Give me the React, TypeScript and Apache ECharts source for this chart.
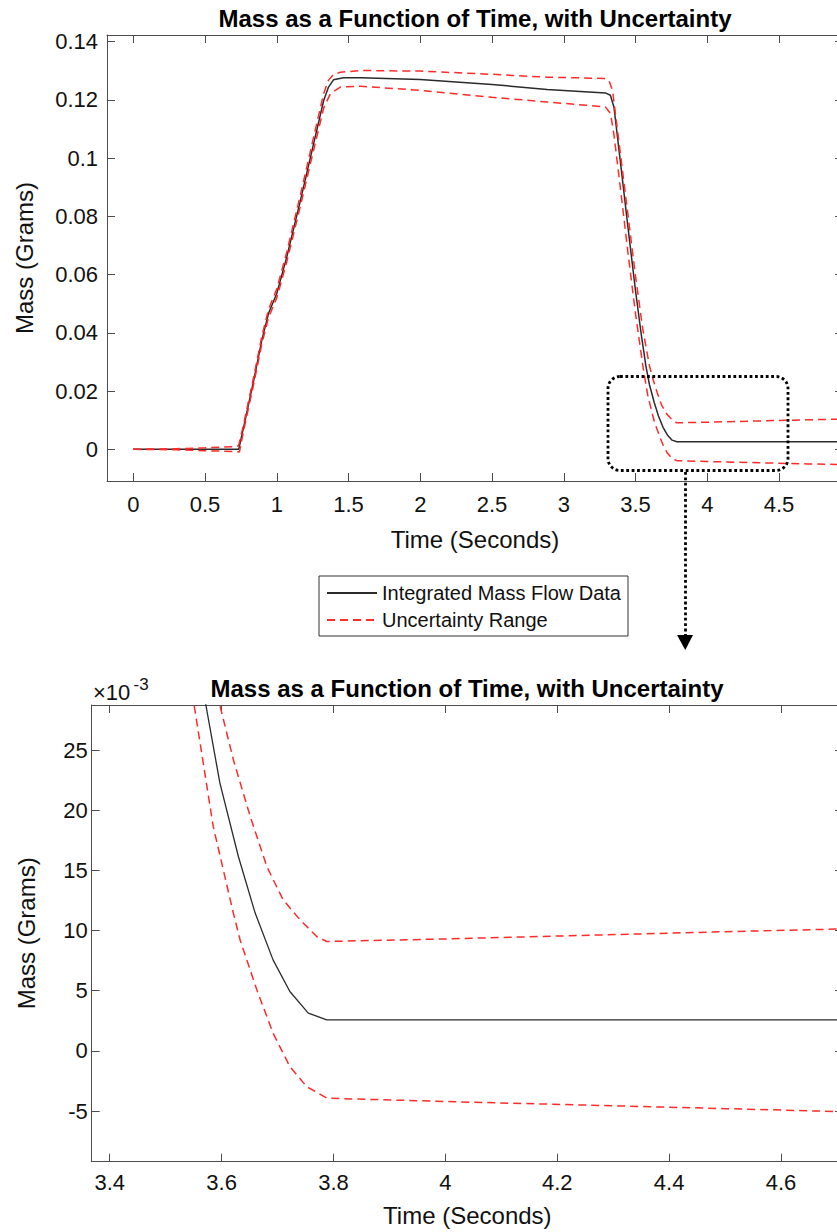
import React, { useEffect, useRef } from "react";
import * as echarts from "echarts";

const FONT = "'Liberation Sans', Arial, Helvetica, sans-serif";
const AX = "#4d4d4d";
const TXT = "#111111";

// ---- data (time in seconds, mass in grams) ----
const blackT = [0, 0.3, 0.6, 0.735, 0.77, 0.84, 0.896, 0.943, 1.0, 1.07, 1.165, 1.257, 1.327, 1.361, 1.395, 1.465, 1.583, 2.0, 2.5, 2.884, 3.29, 3.325, 3.35, 3.4, 3.45, 3.5, 3.54, 3.572, 3.597, 3.63, 3.66, 3.692, 3.722, 3.755, 3.788, 4.0, 4.5, 5.0];
const blackM = [0, 0, 0, 0, 0.0078, 0.0238, 0.0375, 0.0467, 0.0535, 0.0661, 0.0855, 0.105, 0.1198, 0.1244, 0.1269, 0.1276, 0.1276, 0.127, 0.1253, 0.1236, 0.1224, 0.1216, 0.1175, 0.0965, 0.0752, 0.0545, 0.0395, 0.0287, 0.02225, 0.01615, 0.01145, 0.00756, 0.00493, 0.00313, 0.00258, 0.00258, 0.00258, 0.00258];

const upperT = [0, 0.3, 0.5, 0.72, 0.735, 0.77, 0.84, 0.896, 0.943, 1.0, 1.07, 1.165, 1.257, 1.327, 1.361, 1.395, 1.443, 1.583, 2.0, 2.5, 2.884, 3.28, 3.315, 3.34, 3.4, 3.45, 3.5, 3.55, 3.597, 3.621, 3.651, 3.681, 3.71, 3.74, 3.77, 3.788, 4.0, 4.5, 4.7, 5.0];
const upperM = [0, 0.0002, 0.0005, 0.0009, 0.0014, 0.0088, 0.025, 0.0388, 0.0481, 0.055, 0.0678, 0.0874, 0.1072, 0.1222, 0.1268, 0.1287, 0.1295, 0.1301, 0.1299, 0.1288, 0.1278, 0.1274, 0.1267, 0.1233, 0.0995, 0.0795, 0.0595, 0.0415, 0.0287, 0.0242, 0.0195, 0.0153, 0.01255, 0.0109, 0.0095, 0.00909, 0.0093, 0.0099, 0.01012, 0.0104];

const lowerT = [0, 0.3, 0.5, 0.72, 0.74, 0.77, 0.84, 0.896, 0.943, 1.0, 1.07, 1.165, 1.257, 1.327, 1.373, 1.443, 1.583, 2.0, 2.5, 2.884, 3.29, 3.326, 3.35, 3.4, 3.45, 3.5, 3.551, 3.585, 3.621, 3.633, 3.663, 3.692, 3.722, 3.752, 3.788, 4.0, 4.5, 4.7, 5.0];
const lowerM = [0, -0.0002, -0.0005, -0.0008, -0.0009, 0.0066, 0.0226, 0.0362, 0.0453, 0.052, 0.0644, 0.0836, 0.1028, 0.1172, 0.1221, 0.1244, 0.1247, 0.1233, 0.1209, 0.1193, 0.1176, 0.1153, 0.108, 0.0875, 0.0665, 0.0466, 0.0287, 0.01865, 0.01145, 0.00923, 0.00507, 0.00147, -0.0013, -0.00297, -0.00393, -0.00421, -0.0048, -0.00504, -0.0053];

// ---- tick labels ----
const topXTicks = [0, 0.5, 1, 1.5, 2, 2.5, 3, 3.5, 4, 4.5];
const topYTicks = [0, 0.02, 0.04, 0.06, 0.08, 0.1, 0.12, 0.14];
const botXTicks = [3.4, 3.6, 3.8, 4, 4.2, 4.4, 4.6];
const botYTicks = [-0.005, 0, 0.005, 0.01, 0.015, 0.02, 0.025];

const TITLE = "Mass as a Function of Time, with Uncertainty";
const XNAME = "Time (Seconds)";
const YNAME = "Mass (Grams)";
const NAME_MAIN = "Integrated Mass Flow Data";
const NAME_UNC = "Uncertainty Range";

const pairs = (t: number[], m: number[]) => t.map((v, i) => [v, m[i]]);

const fmt = (v: number) => String(+v.toFixed(4));
const fmtMilli = (v: number) => String(Math.round(v * 1000));

function axis(opts: {
  gridIndex: number;
  position: string;
  min: number;
  max: number;
  ticks: number[];
  showLabel: boolean;
  margin?: number;
  formatter?: (v: number) => string;
  name?: string;
  nameGap?: number;
}) {
  return {
    type: "value",
    gridIndex: opts.gridIndex,
    position: opts.position,
    min: opts.min,
    max: opts.max,
    axisLine: { show: true, onZero: false, lineStyle: { color: AX, width: 1 } },
    axisTick: {
      show: true,
      inside: true,
      length: 8,
      customValues: opts.ticks,
      lineStyle: { color: AX, width: 1 },
    },
    axisLabel: {
      show: opts.showLabel,
      customValues: opts.ticks,
      formatter: opts.formatter || fmt,
      fontSize: 22,
      fontFamily: FONT,
      color: TXT,
      margin: opts.margin ?? 10,
    },
    splitLine: { show: false },
    name: opts.name,
    nameLocation: "middle",
    nameGap: opts.nameGap,
    nameTextStyle: { fontSize: 24, fontFamily: FONT, color: TXT },
  };
}

const X1 = [-0.183, 4.946];
const Y1 = [-0.0109, 0.1423];
const X2 = [3.3678, 4.7108];
const Y2 = [-0.00921, 0.02874];

function seriesFor(xi: number, yi: number, bw: number) {
  const base = {
    type: "line",
    xAxisIndex: xi,
    yAxisIndex: yi,
    symbol: "none",
    showSymbol: false,
    clip: true,
    silent: true,
  };
  return [
    {
      ...base,
      name: NAME_MAIN,
      data: pairs(blackT, blackM),
      lineStyle: { color: "#2b2b2b", width: bw },
      itemStyle: { color: "#2b2b2b" },
    },
    {
      ...base,
      name: NAME_UNC,
      data: pairs(upperT, upperM),
      lineStyle: { color: "#ff2a2a", width: 1.5, type: [8, 5] },
      itemStyle: { color: "#ff2a2a" },
    },
    {
      ...base,
      name: NAME_UNC,
      data: pairs(lowerT, lowerM),
      lineStyle: { color: "#ff2a2a", width: 1.5, type: [8, 5] },
      itemStyle: { color: "#ff2a2a" },
    },
  ];
}

const option: any = {
  animation: false,
  backgroundColor: "#ffffff",
  textStyle: { fontFamily: FONT },
  grid: [
    { left: 107, top: 35, width: 736, height: 446 },
    { left: 91.7, top: 705, width: 751.3, height: 456.7 },
  ],
  xAxis: [
    axis({ gridIndex: 0, position: "bottom", min: X1[0], max: X1[1], ticks: topXTicks, showLabel: true, margin: 12, name: XNAME, nameGap: 46 }),
    axis({ gridIndex: 0, position: "top", min: X1[0], max: X1[1], ticks: topXTicks, showLabel: false }),
    axis({ gridIndex: 1, position: "bottom", min: X2[0], max: X2[1], ticks: botXTicks, showLabel: true, margin: 10, name: XNAME, nameGap: 42 }),
    axis({ gridIndex: 1, position: "top", min: X2[0], max: X2[1], ticks: botXTicks, showLabel: false }),
  ],
  yAxis: [
    axis({ gridIndex: 0, position: "left", min: Y1[0], max: Y1[1], ticks: topYTicks, showLabel: true, margin: 9, name: YNAME, nameGap: 71 }),
    axis({ gridIndex: 0, position: "right", min: Y1[0], max: Y1[1], ticks: topYTicks, showLabel: false }),
    axis({ gridIndex: 1, position: "left", min: Y2[0], max: Y2[1], ticks: botYTicks, showLabel: true, margin: 4, formatter: fmtMilli, name: YNAME, nameGap: 53 }),
    axis({ gridIndex: 1, position: "right", min: Y2[0], max: Y2[1], ticks: botYTicks, showLabel: false }),
  ],
  legend: {
    data: [NAME_MAIN, NAME_UNC],
    orient: "vertical",
    left: 319,
    top: 576,
    itemWidth: 50,
    itemHeight: 14,
    itemGap: 7,
    padding: [7, 7, 6, 7],
    borderColor: "#333333",
    borderWidth: 1,
    backgroundColor: "#ffffff",
    itemStyle: { opacity: 0 },
    textStyle: { fontSize: 20, fontFamily: FONT, color: TXT },
    selectedMode: false,
  },
  series: [...seriesFor(0, 0, 1.5), ...seriesFor(2, 2, 1.3)],
  graphic: [
    {
      type: "text",
      x: 475,
      y: 18.5,
      style: { text: TITLE, fontSize: 24, fontWeight: "bold", fontFamily: FONT, fill: "#000", align: "center", verticalAlign: "middle" },
    },
    {
      type: "text",
      x: 467,
      y: 688,
      style: { text: TITLE, fontSize: 24, fontWeight: "bold", fontFamily: FONT, fill: "#000", align: "center", verticalAlign: "middle" },
    },
    {
      type: "text",
      x: 93,
      y: 692,
      style: { text: "×10", fontSize: 22, fontFamily: FONT, fill: TXT, align: "left", verticalAlign: "middle" },
    },
    {
      type: "text",
      x: 133.5,
      y: 684.5,
      style: { text: "-3", fontSize: 17, fontFamily: FONT, fill: TXT, align: "left", verticalAlign: "middle" },
    },
    {
      type: "rect",
      shape: { x: 608, y: 376.5, width: 180, height: 94, r: 12 },
      style: { fill: "none", stroke: "#000", lineWidth: 2.8, lineDash: [2.8, 2.6] },
      z: 100,
    },
    {
      type: "line",
      shape: { x1: 685.5, y1: 472, x2: 685.5, y2: 636 },
      style: { stroke: "#000", lineWidth: 2.8, lineDash: [2.8, 2.6] },
      z: 100,
    },
    {
      type: "polygon",
      shape: { points: [[677, 635], [693, 635], [685.3, 650]] },
      style: { fill: "#000" },
      z: 100,
    },
  ],
};

export default function App() {
  const ref = useRef<HTMLDivElement>(null);
  useEffect(() => {
    const chart = echarts.init(ref.current!, null, { renderer: "svg" });
    chart.setOption(option);
    return () => chart.dispose();
  }, []);
  return (
    <div
      style={{
        position: "absolute",
        left: 0,
        top: 0,
        width: 837,
        height: 1232,
        overflow: "hidden",
        background: "#fff",
      }}
    >
      <div ref={ref} style={{ width: 850, height: 1232 }} />
    </div>
  );
}
